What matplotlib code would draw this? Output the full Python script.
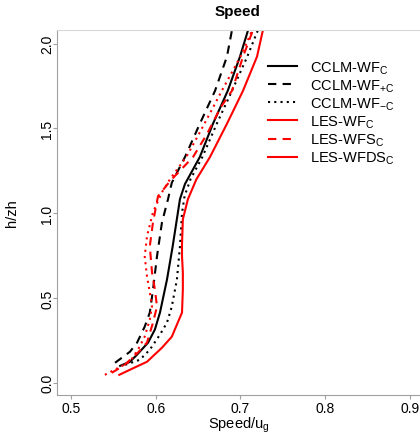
import matplotlib
matplotlib.use('Agg')
import matplotlib.pyplot as plt
from matplotlib.lines import Line2D

plt.rcParams['font.family'] = ['Liberation Sans', 'DejaVu Sans']
plt.rcParams['mathtext.fontset'] = 'custom'
plt.rcParams['mathtext.rm'] = 'Liberation Sans'

# CCLM-WF_C (black solid)
h_cclm = [0.10, 0.124, 0.166, 0.237, 0.314, 0.414, 0.609, 0.805, 1.083, 1.172, 1.331, 1.527, 1.722, 1.923, 2.08]
v_cclm = [0.558, 0.5696, 0.578, 0.591, 0.599, 0.605, 0.6133, 0.620, 0.6286, 0.6345, 0.652, 0.6675, 0.685, 0.6994, 0.709]

# CCLM-WF+C (black dashed)
h_cclm_p = [0.118, 0.183, 0.237, 0.331, 0.414, 0.55, 0.746, 0.947, 1.083, 1.18, 1.331, 1.527, 1.722, 1.923, 2.08]
v_cclm_p = [0.552, 0.5696, 0.578, 0.587, 0.593, 0.5968, 0.6015, 0.6074, 0.6145, 0.619, 0.6345, 0.652, 0.670, 0.684, 0.690]

# CCLM-WF-C (black dotted)
h_cclm_m = [0.106, 0.136, 0.195, 0.284, 0.355, 0.45, 0.609, 0.805, 1.0, 1.1, 1.2, 1.331, 1.527, 1.722, 1.923, 2.08]
v_cclm_m = [0.564, 0.5814, 0.593, 0.605, 0.6133, 0.619, 0.625, 0.6286, 0.631, 0.634, 0.641, 0.655, 0.672, 0.690, 0.708, 0.7206]

# LES-WF_C (red, drawn dotted)
h_les = [0.047, 0.124, 0.195, 0.272, 0.373, 0.45, 0.533, 0.627, 0.746, 0.864, 1.006, 1.124, 1.20, 1.331, 1.467, 1.627, 1.722, 1.923, 2.08]
v_les = [0.540, 0.5696, 0.579, 0.587, 0.593, 0.5956, 0.593, 0.5897, 0.587, 0.5897, 0.5968, 0.6074, 0.6168, 0.636, 0.651, 0.668, 0.678, 0.700, 0.714]

# LES-WFS_C (red dashed)
h_les_s = [0.059, 0.10, 0.178, 0.237, 0.355, 0.45, 0.55, 0.651, 0.805, 0.947, 1.10, 1.19, 1.331, 1.467, 1.627, 1.722, 1.923, 2.08]
v_les_s = [0.548, 0.562, 0.579, 0.5897, 0.5968, 0.6015, 0.599, 0.5956, 0.593, 0.5968, 0.6027, 0.617, 0.644, 0.6605, 0.677, 0.690, 0.703, 0.7148]

# LES-WFDS_C (red solid)
h_les_ds = [0.047, 0.077, 0.124, 0.207, 0.272, 0.355, 0.414, 0.55, 0.651, 0.746, 0.817, 0.964, 1.083, 1.20, 1.331, 1.527, 1.722, 1.923, 2.08]
v_les_ds = [0.557, 0.5696, 0.5897, 0.6074, 0.619, 0.626, 0.631, 0.632, 0.632, 0.631, 0.631, 0.632, 0.638, 0.648, 0.664, 0.684, 0.703, 0.7195, 0.7265]

labels = [r'CCLM-WF$_\mathrm{C}$', r'CCLM-WF$_\mathrm{+C}$', r'CCLM-WF$_\mathrm{-C}$',
          r'LES-WF$_\mathrm{C}$', r'LES-WFS$_\mathrm{C}$', r'LES-WFDS$_\mathrm{C}$']

fig = plt.figure(figsize=(4.2, 4.35), dpi=100)
ax = fig.add_axes([57 / 420, 39 / 435, 363 / 420, 365 / 435])

lw = 1.5
ax.plot(v_cclm, h_cclm, color='black', lw=lw)
ax.plot(v_cclm_p, h_cclm_p, color='black', lw=lw, dashes=(4, 3))
ax.plot(v_cclm_m, h_cclm_m, color='black', lw=lw, dashes=(1, 2))
ax.plot(v_les, h_les, color='red', lw=lw, dashes=(1, 2))
ax.plot(v_les_s, h_les_s, color='red', lw=lw, dashes=(4, 3))
ax.plot(v_les_ds, h_les_ds, color='red', lw=lw)

ax.set_xlim(0.4835, 0.4835 + 363 / 847.5)
ax.set_ylim(-0.072, 2.08)
ax.set_xticks([0.5, 0.6, 0.7, 0.8, 0.9])
ax.set_yticks([0.0, 0.5, 1.0, 1.5, 2.0])
ax.set_xticklabels(['0.5', '0.6', '0.7', '0.8', '0.9'])
ax.set_yticklabels(['0.0', '0.5', '1.0', '1.5', '2.0'], rotation=90, va='center')

ax.spines['right'].set_visible(False)
for s in ['left', 'bottom']:
    ax.spines[s].set_color('#a0a0a0')
ax.spines['top'].set_color('#d8d8d8')
ax.tick_params(colors='#a0a0a0', labelcolor='black', labelsize=10, length=3, width=0.8)
ax.tick_params(axis='x', pad=1)
ax.tick_params(axis='y', pad=-1)

ax.set_xlabel(r'Speed/u$_\mathrm{g}$', fontsize=10.5)
ax.xaxis.set_label_coords(0.5, -0.081)
ax.xaxis.label.set_va('center')
ax.set_ylabel('h/zh', fontsize=10.5)
ax.yaxis.set_label_coords(-0.124, 0.5)
ax.yaxis.label.set_va('center')

fig.text(0.565, 1 - 12 / 435, 'Speed', ha='center', va='center', fontsize=11, fontweight='bold')

handles = [
    Line2D([], [], color='black', lw=lw),
    Line2D([], [], color='black', lw=lw, dashes=(4, 3)),
    Line2D([], [], color='black', lw=lw, dashes=(1, 2)),
    Line2D([], [], color='red', lw=lw),
    Line2D([], [], color='red', lw=lw, dashes=(4, 3)),
    Line2D([], [], color='red', lw=lw),
]
ax.legend(handles, labels, loc='upper left', bbox_to_anchor=(268 / 420, 1 - 60 / 435),
          bbox_transform=fig.transFigure, frameon=False, fontsize=10.5,
          borderpad=0, borderaxespad=0, handlelength=2.0, handletextpad=0.9,
          labelspacing=0.1)

fig.savefig('out.png', dpi=100)
